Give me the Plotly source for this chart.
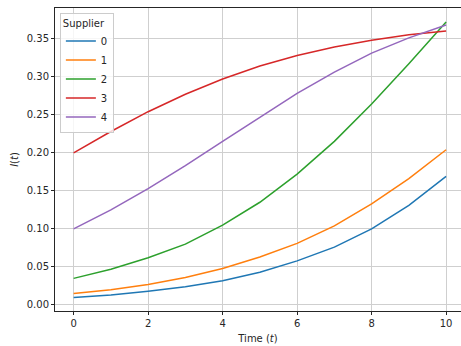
import plotly.graph_objects as go

# Time steps and per-supplier I(t) values
time = [0, 1, 2, 3, 4, 5, 6, 7, 8, 9, 10]
supplier_0 = [0.010, 0.013, 0.018, 0.024, 0.032, 0.043, 0.058, 0.076, 0.100, 0.131, 0.169]
supplier_1 = [0.015, 0.020, 0.027, 0.036, 0.048, 0.063, 0.081, 0.104, 0.133, 0.166, 0.204]
supplier_2 = [0.035, 0.047, 0.062, 0.080, 0.105, 0.135, 0.172, 0.215, 0.264, 0.317, 0.372]
supplier_3 = [0.200, 0.228, 0.254, 0.277, 0.297, 0.314, 0.328, 0.339, 0.348, 0.355, 0.360]
supplier_4 = [0.100, 0.125, 0.153, 0.183, 0.215, 0.247, 0.278, 0.306, 0.331, 0.351, 0.368]

names = ["0", "1", "2", "3", "4"]
series = [supplier_0, supplier_1, supplier_2, supplier_3, supplier_4]
colors = ["#1f77b4", "#ff7f0e", "#2ca02c", "#d62728", "#9467bd"]

y_ticks = [0.00, 0.05, 0.10, 0.15, 0.20, 0.25, 0.30, 0.35]
x_ticks = [0, 2, 4, 6, 8, 10]

fig = go.Figure()
for name, vals, col in zip(names, series, colors):
    fig.add_trace(go.Scatter(x=time, y=vals, name=name, mode="lines",
                             line=dict(color=col, width=1.5)))

font = dict(family="DejaVu Sans", size=10, color="#262626")
fig.update_layout(
    width=461, height=346,
    margin=dict(l=55, r=0, t=8, b=35),
    paper_bgcolor="white", plot_bgcolor="white",
    font=font,
    showlegend=True,
    legend=dict(
        title=dict(text="Supplier", font=font),
        x=0.012, y=0.985, xanchor="left", yanchor="top",
        bgcolor="rgba(255,255,255,0.8)", bordercolor="#cccccc", borderwidth=1,
        font=font, tracegroupgap=0, itemwidth=30,
    ),
    xaxis=dict(
        range=[-0.5, 10.40], tickvals=x_ticks, ticktext=[str(v) for v in x_ticks],
        showgrid=True, gridcolor="#cfcfcf", gridwidth=1.2,
        showline=True, linecolor="#262626", linewidth=1, mirror=True,
        ticks="outside", ticklen=3, tickcolor="#262626", zeroline=False,
        title=dict(text="Time (<i>t</i>)", font=font, standoff=6),
    ),
    yaxis=dict(
        range=[-0.0079, 0.3903], tickvals=y_ticks,
        ticktext=[f"{v:.2f}" for v in y_ticks],
        showgrid=True, gridcolor="#cfcfcf", gridwidth=1.2,
        showline=True, linecolor="#262626", linewidth=1, mirror=False,
        ticks="outside", ticklen=3, tickcolor="#262626", zeroline=False,
        title=dict(text="<i>I</i>(<i>t</i>)", font=font, standoff=6),
    ),
)

fig.write_html("out.html")
